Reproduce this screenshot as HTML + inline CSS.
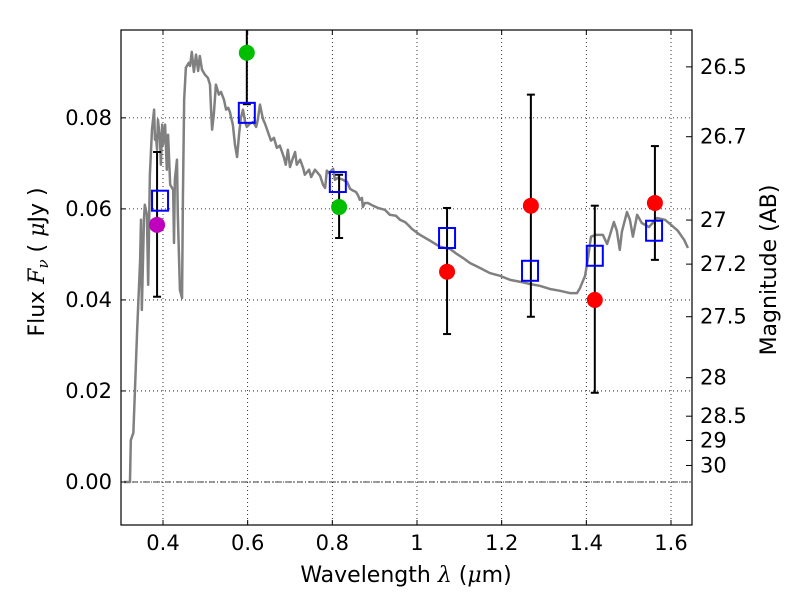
<!DOCTYPE html>
<html><head><meta charset="utf-8"><style>
body{margin:0;background:#fff;}
svg{display:block;font-family:"DejaVu Sans","Liberation Sans",sans-serif;}
</style></head><body>
<svg id="c" width="800" height="600"></svg>
<script>
const xTicks=[0.4,0.6,0.8,1.0,1.2,1.4,1.6];
const xTickLabels=["0.4","0.6","0.8","1","1.2","1.4","1.6"];
const yTicks=[0,0.02,0.04,0.06,0.08];
const yTickLabels=["0.00","0.02","0.04","0.06","0.08"];
const magTicks=[26.5,26.7,27,27.2,27.5,28,28.5,29,30];
const magTickLabels=["26.5","26.7","27","27.2","27.5","28","28.5","29","30"];
const specW=[0.308,0.322,0.324,0.330,0.339,0.346,0.348,0.350,0.355,0.357,0.362,0.365,0.369,0.374,0.379,0.381,0.383,0.386,0.388,0.393,0.395,0.398,0.400,0.405,0.409,0.412,0.417,0.424,0.426,0.428,0.433,0.435,0.440,0.445,0.447,0.450,0.454,0.461,0.464,0.468,0.473,0.478,0.483,0.487,0.492,0.499,0.506,0.511,0.513,0.516,0.520,0.525,0.532,0.537,0.544,0.549,0.554,0.558,0.565,0.570,0.575,0.580,0.584,0.589,0.594,0.598,0.605,0.613,0.620,0.624,0.629,0.636,0.641,0.646,0.655,0.662,0.669,0.676,0.686,0.690,0.695,0.700,0.707,0.712,0.716,0.724,0.731,0.735,0.745,0.750,0.759,0.771,0.778,0.783,0.787,0.792,0.802,0.806,0.813,0.825,0.835,0.842,0.849,0.856,0.861,0.865,0.870,0.872,0.877,0.884,0.896,0.908,0.924,0.936,0.950,0.960,0.972,0.981,0.988,1.007,1.031,1.054,1.078,1.094,1.109,1.125,1.149,1.172,1.196,1.220,1.243,1.267,1.290,1.314,1.338,1.361,1.378,1.385,1.397,1.404,1.411,1.423,1.439,1.449,1.456,1.465,1.472,1.479,1.484,1.496,1.503,1.510,1.520,1.531,1.548,1.567,1.586,1.600,1.616,1.631,1.640];
const specF=[0,0,0.0092,0.0108,0.0334,0.0488,0.0576,0.0378,0.0576,0.0609,0.0587,0.0433,0.0675,0.0774,0.0818,0.0752,0.0763,0.0730,0.0796,0.0752,0.0697,0.0785,0.0741,0.0785,0.0686,0.0763,0.0653,0.0642,0.0525,0.0664,0.0708,0.0587,0.0422,0.0404,0.0620,0.0840,0.0910,0.0921,0.0914,0.0945,0.0901,0.0939,0.0903,0.0936,0.0906,0.0895,0.0888,0.0873,0.0829,0.0774,0.0807,0.0873,0.0851,0.0857,0.0840,0.0818,0.0822,0.0813,0.0785,0.0741,0.0714,0.0767,0.0800,0.0818,0.0791,0.0780,0.0787,0.0791,0.0780,0.0796,0.0829,0.0798,0.0787,0.0774,0.0750,0.0756,0.0734,0.0739,0.0712,0.0697,0.0730,0.0692,0.0712,0.0725,0.0697,0.0708,0.0690,0.0675,0.0686,0.0670,0.0686,0.0673,0.0653,0.0646,0.0684,0.0679,0.0688,0.0664,0.0668,0.0664,0.0659,0.0644,0.0640,0.0637,0.0629,0.0620,0.0624,0.0604,0.0613,0.0613,0.0607,0.0602,0.0598,0.0587,0.0585,0.0576,0.0571,0.0563,0.0556,0.0543,0.0530,0.0517,0.0512,0.0501,0.0492,0.0481,0.0470,0.0459,0.0453,0.0444,0.0440,0.0435,0.0431,0.0424,0.0420,0.0415,0.0415,0.0426,0.0453,0.0492,0.0539,0.0543,0.0543,0.0523,0.0543,0.0571,0.0552,0.0510,0.0550,0.0593,0.0576,0.0539,0.0587,0.0569,0.0560,0.0580,0.0576,0.0565,0.0552,0.0532,0.0514];
const obsW=[0.386,0.598,0.816,1.071,1.269,1.420,1.562];
const obsF=[0.0565,0.0943,0.0604,0.0462,0.0607,0.0400,0.0613];
const obsErrLo=[0.0158,0.0113,0.0068,0.0137,0.0244,0.0204,0.0125];
const obsErrHi=[0.0160,0.0113,0.0071,0.0140,0.0244,0.0207,0.0125];
const obsColor=["#bf00bf","#00bf00","#00bf00","#ff0000","#ff0000","#ff0000","#ff0000"];
const modW=[0.393,0.598,0.813,1.071,1.267,1.420,1.560];
const modF=[0.0618,0.0811,0.0659,0.0536,0.0464,0.0497,0.0552];

const L=121,R=692,T=30,B=525;
const xmin=0.3008,xmax=1.6496,ymin=-0.00945,ymax=0.0993;
const X=w=>L+(w-xmin)/(xmax-xmin)*(R-L);
const Y=f=>B-(f-ymin)/(ymax-ymin)*(B-T);
const magY=m=>Y(Math.pow(10,-(m-23.9)/2.5));
const svg=document.getElementById('c');
const NS="http://www.w3.org/2000/svg";
function el(tag,attrs,parent){const e=document.createElementNS(NS,tag);for(const k in attrs)e.setAttribute(k,attrs[k]);(parent||svg).appendChild(e);return e;}

const clip=el('clipPath',{id:'pc'});el('rect',{x:L,y:T,width:R-L,height:B-T},clip);
const grid=el('g',{stroke:'#000','stroke-width':0.8,'stroke-dasharray':'1,3'});


xTicks.forEach(t=>el('line',{x1:X(t),x2:X(t),y1:T,y2:B},grid));
yTicks.forEach(t=>el('line',{x1:L,x2:R,y1:Y(t),y2:Y(t)},grid));
const zl=el('line',{x1:L,x2:R,y1:Y(0),y2:Y(0),stroke:'#000','stroke-width':0.8,'stroke-dasharray':'6,2,1,2'});



const pg=el('g',{'clip-path':'url(#pc)'});
const sp=el('polyline',{points:specW.map((w,i)=>X(w)+','+Y(specF[i])).join(' '),fill:'none',stroke:'#808080','stroke-width':2.5,'stroke-linejoin':'round'},pg);



obsW.forEach((w,i)=>{
  const g=el('g',{stroke:'#000','stroke-width':2},pg);
  
  
  const x=X(w),y1=Y(obsF[i]+obsErrHi[i]),y2=Y(obsF[i]-obsErrLo[i]);
  el('line',{x1:x,x2:x,y1:y1,y2:y2},g);
  el('line',{x1:x-4,x2:x+4,y1:y1,y2:y1},g);
  el('line',{x1:x-4,x2:x+4,y1:y2,y2:y2},g);
});
obsW.forEach((w,i)=>{
  const c=el('circle',{cx:X(w),cy:Y(obsF[i]),r:8,fill:obsColor[i]},pg);
  
  
});
modW.forEach((w,i)=>{
  const s=el('rect',{x:X(w)-8,y:Y(modF[i])-10,width:16,height:20,fill:'none',stroke:'#0000ff','stroke-width':2},pg);
  
  
});

const frame=el('rect',{x:L,y:T,width:R-L,height:B-T,fill:'none',stroke:'#000','stroke-width':1.2});



xTicks.forEach((t,i)=>{
  el('line',{x1:X(t),x2:X(t),y1:B,y2:B-5,stroke:'#000'});
  el('line',{x1:X(t),x2:X(t),y1:T,y2:T+5,stroke:'#000'});
  const tx=el('text',{x:X(t),y:B+25,'font-size':21,'text-anchor':'middle'});tx.textContent=xTickLabels[i];
  
  
});
yTicks.forEach((t,i)=>{
  el('line',{x1:L,x2:L+5,y1:Y(t),y2:Y(t),stroke:'#000'});
  const tx=el('text',{x:L-9,y:Y(t)+7,'font-size':21,'text-anchor':'end'});tx.textContent=yTickLabels[i];
  
  
});
magTicks.forEach((m,i)=>{
  const y=magY(m);
  el('line',{x1:R,x2:R-6,y1:y,y2:y,stroke:'#000'});
  const tx=el('text',{x:R+8,y:y+7,'font-size':21});tx.textContent=magTickLabels[i];
  
  
});

const xl=el('text',{x:406,y:582,'font-size':22,'text-anchor':'middle','xml:space':'preserve'});
xl.innerHTML='Wavelength  <tspan font-style="italic" font-family="DejaVu Serif,serif">λ</tspan> (<tspan font-style="italic" font-family="DejaVu Serif,serif">μ</tspan>m)';


const yl=el('text',{x:0,y:0,'font-size':22,'text-anchor':'middle','xml:space':'preserve',transform:'translate(44,262) rotate(-90)'});
yl.innerHTML='Flux  <tspan font-style="italic" font-family="DejaVu Serif,serif">F<tspan font-size="15" dy="4">ν</tspan></tspan><tspan dy="-4">  (  </tspan><tspan font-style="italic" font-family="DejaVu Serif,serif">μ</tspan>Jy )';


const rl=el('text',{x:0,y:0,'font-size':22,'text-anchor':'middle',transform:'translate(776,270) rotate(-90)'});
rl.textContent='Magnitude (AB)';


</script>
</body></html>
